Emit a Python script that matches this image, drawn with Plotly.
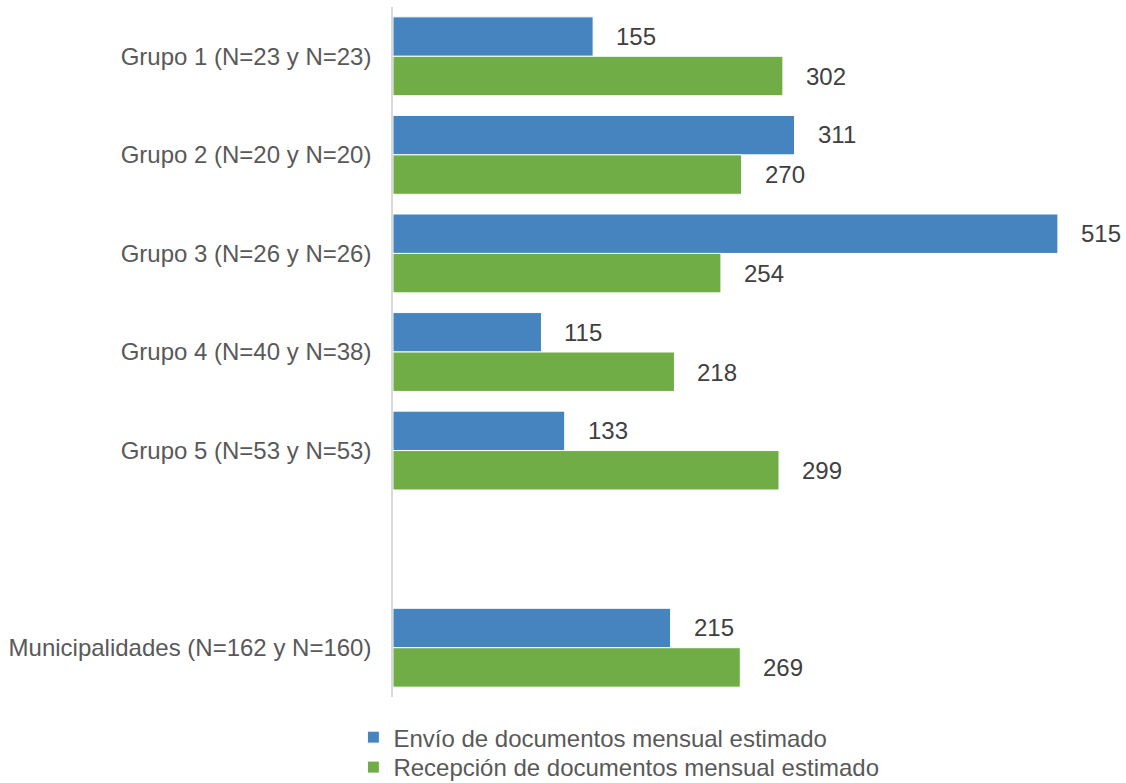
import plotly.graph_objects as go

categorias = ["Grupo 1 (N=23 y N=23)", "Grupo 2 (N=20 y N=20)", "Grupo 3 (N=26 y N=26)",
              "Grupo 4 (N=40 y N=38)", "Grupo 5 (N=53 y N=53)", " ",
              "Municipalidades (N=162 y N=160)"]
envio = [155, 311, 515, 115, 133, None, 215]
recepcion = [302, 270, 254, 218, 299, None, 269]
nombres = ["Envío de documentos mensual estimado", "Recepción de documentos mensual estimado"]
colores = ["#4584BF", "#70AD47"]

FONT = "Liberation Sans, Arial, sans-serif"

fig = go.Figure()
for vals, name, col, lg in zip([envio, recepcion], nombres, colores, ["legend", "legend2"]):
    fig.add_trace(go.Bar(
        y=categorias, x=vals, name=name, orientation="h",
        marker=dict(color=col, line=dict(color="white", width=1)),
        hoverinfo="x+y", legend=lg,
    ))

annotations = []
for idx, vals in enumerate([envio, recepcion]):
    for c, v in zip(categorias, vals):
        if v is None:
            continue
        annotations.append(dict(
            x=v, y=c, text=str(v), showarrow=False, xanchor="left",
            xshift=21, yshift=(20 if idx == 0 else -20),
            font=dict(family=FONT, size=24, color="#404040"),
        ))

leg_common = dict(orientation="v", x=-0.0548, xanchor="left", yref="container",
                  yanchor="top", font=dict(family=FONT, size=24, color="#595959"),
                  itemwidth=30, bgcolor="rgba(0,0,0,0)")

fig.update_layout(
    width=1126, height=783,
    margin=dict(l=393, r=10, t=7, b=86, autoexpand=False),
    paper_bgcolor="white", plot_bgcolor="white",
    barmode="group", bargap=0.2, bargroupgap=0,
    showlegend=True,
    legend=dict(y=0.0868, **leg_common),
    legend2=dict(y=0.0485, **leg_common),
    annotations=annotations,
    xaxis=dict(range=[0, 560], visible=False, showgrid=False, zeroline=False),
    yaxis=dict(categoryorder="array", categoryarray=categorias, autorange="reversed",
               showline=True, linecolor="#D9D9D9", linewidth=1.5,
               ticks="", ticklabelstandoff=15, showgrid=False,
               tickfont=dict(family=FONT, size=24, color="#595959")),
)

fig.write_html("out.html")
